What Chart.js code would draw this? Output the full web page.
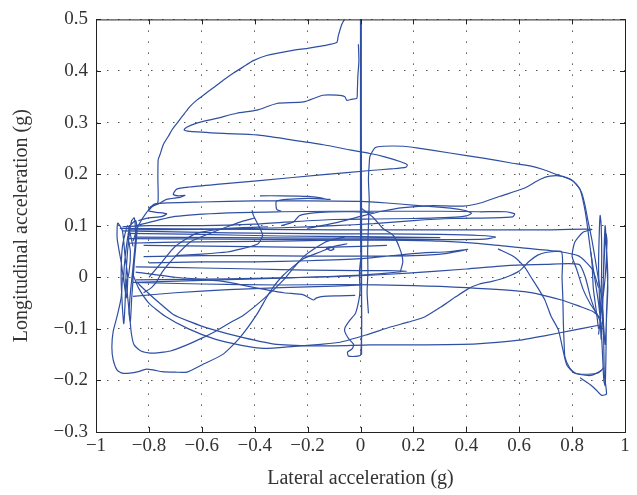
<!DOCTYPE html>
<html>
<head>
<meta charset="utf-8">
<script src="https://cdn.jsdelivr.net/npm/chart.js@4.4.1/dist/chart.umd.min.js"></script>
<style>
  html, body { margin: 0; padding: 0; background: #fff; }
  #wrap { width: 637px; height: 495px; }
</style>
</head>
<body>
<div id="wrap"><canvas id="chart" width="637" height="495"></canvas></div>
<script>
// axis ticks
const xTicks = [-1, -0.8, -0.6, -0.4, -0.2, 0, 0.2, 0.4, 0.6, 0.8, 1];
const yTicks = [-0.3, -0.2, -0.1, 0, 0.1, 0.2, 0.3, 0.4, 0.5];

// trace pieces, [lateral, longitudinal] in g
const upperLoop = [[-0.86,0.07],[-0.84,0.10],[-0.81,0.125],[-0.785,0.138],[-0.766,0.145],[-0.766,0.19],[-0.765,0.228],[-0.758,0.238],[-0.745,0.258],[-0.727,0.273],[-0.71,0.288],[-0.689,0.302],[-0.665,0.318],[-0.645,0.331],[-0.62,0.343],[-0.594,0.353],[-0.555,0.368],[-0.519,0.382],[-0.48,0.396],[-0.443,0.408],[-0.405,0.42],[-0.355,0.43],[-0.267,0.439],[-0.2,0.444],[-0.14,0.449],[-0.09,0.455],[-0.084,0.468],[-0.071,0.49],[-0.059,0.502],[-0.05,0.52],[0.0,0.52]];

const centerPost = [[0.0,0.52],[0.0,0.3],[0.0,0.1],[0.001,-0.15],[-0.045,-0.153],[-0.049,-0.145],[-0.032,-0.139],[-0.026,-0.13],[-0.045,-0.119],[-0.059,-0.106],[-0.058,-0.097],[-0.04,-0.083],[-0.019,-0.07],[-0.006,-0.044],[-0.002,-0.024],[-0.004,0.01],[0.004,0.05]];
const centerPost2 = [[0.004,-0.15],[0.004,0.1],[0.003,0.3],[0.003,0.52]];

const notchLoop = [[-0.008,0.452],[-0.006,0.42],[-0.01,0.39],[-0.012,0.36],[-0.014,0.347],[-0.035,0.345],[-0.052,0.343],[-0.059,0.35],[-0.09,0.353],[-0.142,0.353],[-0.216,0.34],[-0.317,0.337],[-0.392,0.324],[-0.468,0.318],[-0.544,0.308],[-0.619,0.299],[-0.657,0.291],[-0.667,0.286],[-0.645,0.283],[-0.519,0.279],[-0.392,0.276],[-0.267,0.267],[-0.14,0.257],[-0.04,0.247],[0.036,0.24],[0.088,0.234],[0.152,0.224],[0.177,0.218],[0.171,0.213],[0.113,0.21],[0.037,0.207],[-0.14,0.199],[-0.392,0.187],[-0.544,0.18],[-0.645,0.175],[-0.695,0.171],[-0.708,0.161],[-0.689,0.158],[-0.664,0.159],[-0.682,0.155],[-0.733,0.151],[-0.765,0.142],[-0.796,0.136],[-0.802,0.129],[-0.771,0.126],[-0.733,0.123],[-0.75,0.118],[-0.8,0.115],[-0.84,0.11]];

const rightArc = [[0.03,-0.07],[0.025,-0.03],[0.028,0.01],[0.027,0.05],[0.03,0.1],[0.033,0.15],[0.03,0.19],[0.033,0.22],[0.036,0.235],[0.055,0.251],[0.086,0.254],[0.162,0.254],[0.212,0.251],[0.338,0.241],[0.464,0.231],[0.565,0.222],[0.641,0.216],[0.691,0.209],[0.742,0.199],[0.792,0.19],[0.817,0.18],[0.836,0.164],[0.849,0.139],[0.861,0.107],[0.874,0.075],[0.887,0.036],[0.899,-0.002],[0.912,-0.04],[0.918,-0.09],[0.92,-0.14],[0.922,-0.19],[0.93,-0.226],[0.912,-0.229],[0.89,-0.218],[0.868,-0.208],[0.83,-0.195]];

const risingArc = [[-0.2,0.095],[-0.1,0.105],[0.0,0.118],[0.08,0.128],[0.162,0.135],[0.275,0.139],[0.389,0.138],[0.46,0.145],[0.527,0.157],[0.616,0.172],[0.68,0.19],[0.716,0.196],[0.76,0.196],[0.8,0.188],[0.83,0.17],[0.845,0.14],[0.855,0.11],[0.865,0.07],[0.875,0.03],[0.88,-0.02],[0.89,-0.06],[0.9,-0.1]];

const crossLine = [[-0.91,0.095],[-0.7,0.094],[-0.4,0.093],[-0.1,0.092],[0.2,0.092],[0.5,0.092],[0.7,0.092],[0.874,0.093],[0.84,0.087],[0.81,0.068],[0.80,0.041],[0.817,0.016],[0.842,-0.024],[0.868,-0.051],[0.893,-0.07],[0.91,-0.09]];

const sweepA = [[-0.80,0.13],[-0.78,0.142],[-0.6,0.146],[-0.4,0.148],[-0.2,0.148],[0.0,0.147],[0.1,0.144],[0.22,0.139],[0.34,0.134],[0.40,0.129],[0.42,0.124],[0.40,0.119],[0.34,0.116],[0.2,0.114],[0.05,0.113],[-0.1,0.112],[-0.25,0.108],[-0.4,0.103],[-0.6,0.1],[-0.8,0.1],[-0.9,0.098]];
const sweepB = [[-0.85,0.1],[-0.7,0.118],[-0.5,0.125],[-0.3,0.127],[-0.1,0.128],[0.1,0.128],[0.3,0.128],[0.45,0.127],[0.55,0.127],[0.583,0.123],[0.575,0.117],[0.5,0.115],[0.35,0.114],[0.2,0.11],[0.05,0.104],[-0.1,0.1],[-0.3,0.096],[-0.6,0.093],[-0.88,0.092]];
const sweepC = [[-0.9,0.09],[-0.7,0.088],[-0.5,0.086],[-0.3,0.085],[-0.1,0.084],[0.1,0.084],[0.3,0.083],[0.45,0.081],[0.51,0.078],[0.47,0.074],[0.3,0.073],[0.1,0.073],[-0.1,0.072],[-0.3,0.07],[-0.5,0.069],[-0.7,0.068],[-0.88,0.066]];
const sweepD = [[-0.82,0.04],[-0.6,0.042],[-0.4,0.042],[-0.2,0.041],[0.0,0.041],[0.2,0.042],[0.32,0.046],[0.405,0.054],[0.34,0.05],[0.2,0.046],[0.0,0.036],[-0.2,0.032],[-0.4,0.03],[-0.6,0.03],[-0.8,0.028]];
const sweepE = [[-0.85,0.02],[-0.6,0.018],[-0.4,0.016],[-0.2,0.014],[0.0,0.013],[0.1,0.013],[0.175,0.012],[0.1,0.008],[0.0,0.004],[-0.2,0.0],[-0.4,-0.003],[-0.6,-0.006],[-0.85,-0.01]];
const shortBar = [[-0.38,0.158],[-0.3,0.158],[-0.2,0.157],[-0.15,0.154],[-0.128,0.151],[-0.115,0.151],[-0.2,0.153],[-0.317,0.148],[-0.317,0.132],[-0.3,0.128]];
const bandLoop = [[-0.88,0.085],[-0.6,0.083],[-0.3,0.08],[0.0,0.079],[0.15,0.078],[0.3,0.077],[0.1,0.076],[-0.2,0.076],[-0.5,0.077],[-0.85,0.078]];
const bandLow = [[-0.82,0.062],[-0.5,0.06],[-0.2,0.058],[0.0,0.06],[0.1,0.062]];

const lineF = [[-0.85,-0.005],[-0.5,-0.003],[-0.2,0.0],[0.0,0.003],[0.18,0.008],[0.4,0.016],[0.567,0.023],[0.7,0.025],[0.826,0.025],[0.85,0.0],[0.87,-0.04],[0.89,-0.07]];
const lineG = [[-0.86,-0.01],[-0.6,-0.013],[-0.3,-0.015],[-0.077,-0.014],[0.2,-0.016],[0.4,-0.02],[0.62,-0.028],[0.76,-0.044],[0.826,-0.056],[0.877,-0.066],[0.91,-0.08]];
const lineH = [[-0.86,-0.037],[-0.7,-0.03],[-0.5,-0.024],[-0.3,-0.02],[-0.1,-0.017],[0.0,-0.015]];
const lineI = [[-0.85,0.01],[-0.7,0.0],[-0.52,-0.008],[-0.4,-0.02],[-0.29,-0.03],[-0.216,-0.034],[-0.178,-0.044],[-0.166,-0.04],[-0.14,-0.037],[-0.08,-0.036],[-0.02,-0.035]];
const lineJ = [[-0.88,0.075],[-0.5,0.074],[-0.2,0.073],[0.1,0.072],[0.3,0.07],[0.5,0.063],[0.65,0.055],[0.75,0.05],[0.826,0.041],[0.877,0.015],[0.9,-0.02]];

const lowLoopA = [[-0.90,0.0],[-0.905,-0.04],[-0.92,-0.075],[-0.935,-0.105],[-0.94,-0.135],[-0.935,-0.16],[-0.92,-0.18],[-0.9,-0.186],[-0.872,-0.186],[-0.84,-0.183],[-0.81,-0.178],[-0.78,-0.18],[-0.75,-0.183],[-0.7,-0.184],[-0.657,-0.184],[-0.6,-0.17],[-0.519,-0.149],[-0.456,-0.117],[-0.392,-0.072],[-0.342,-0.028],[-0.292,0.004],[-0.216,0.036],[-0.153,0.049],[-0.1,0.06],[-0.05,0.065]];
const lowLoopB = [[-0.887,-0.003],[-0.88,-0.04],[-0.872,-0.079],[-0.866,-0.11],[-0.856,-0.131],[-0.83,-0.143],[-0.795,-0.147],[-0.76,-0.146],[-0.718,-0.143],[-0.656,-0.131],[-0.6,-0.118],[-0.549,-0.105],[-0.5,-0.09],[-0.441,-0.073],[-0.364,-0.041],[-0.287,-0.003],[-0.25,0.02],[-0.211,0.042],[-0.134,0.068],[-0.103,0.073],[-0.06,0.078]];
const flatArc = [[-0.845,-0.01],[-0.808,-0.028],[-0.76,-0.05],[-0.708,-0.072],[-0.64,-0.087],[-0.581,-0.098],[-0.443,-0.117],[-0.317,-0.13],[-0.14,-0.133],[0.036,-0.131],[0.2,-0.131],[0.44,-0.129],[0.6,-0.122],[0.70,-0.113],[0.8,-0.103],[0.90,-0.093]];
const sweepArc = [[-0.86,0.005],[-0.84,-0.02],[-0.80,-0.05],[-0.74,-0.075],[-0.65,-0.1],[-0.55,-0.12],[-0.45,-0.132],[-0.365,-0.138],[-0.25,-0.134],[-0.15,-0.13],[-0.077,-0.126],[0.02,-0.112],[0.116,-0.096],[0.18,-0.087],[0.242,-0.077],[0.306,-0.057],[0.36,-0.038],[0.408,-0.022],[0.45,-0.013],[0.497,-0.008],[0.55,0.0],[0.6,0.012],[0.638,0.031],[0.67,0.043],[0.70,0.048],[0.735,0.05],[0.76,0.05],[0.764,0.03],[0.762,0.0],[0.765,-0.04],[0.767,-0.09],[0.77,-0.13],[0.773,-0.155],[0.79,-0.175],[0.81,-0.185],[0.85,-0.19],[0.875,-0.19],[0.913,-0.18]];
const lowerRight = [[0.52,0.055],[0.58,0.04],[0.62,0.02],[0.645,0.0],[0.67,-0.02],[0.697,-0.044],[0.72,-0.075],[0.748,-0.102],[0.765,-0.14],[0.78,-0.17],[0.81,-0.186],[0.86,-0.188],[0.9,-0.185],[0.92,-0.175]];

const midCurveK = [[-0.40,0.115],[-0.45,0.108],[-0.493,0.1],[-0.57,0.085],[-0.645,0.068],[-0.708,0.036],[-0.75,0.01],[-0.77,-0.008],[-0.79,-0.02],[-0.82,-0.03]];
const midRise = [[-0.8,0.0],[-0.75,0.03],[-0.7,0.06],[-0.62,0.085],[-0.5,0.095],[-0.35,0.098]];
const midWave = [[-0.41,0.13],[-0.405,0.12],[-0.385,0.1],[-0.37,0.082],[-0.38,0.07],[-0.39,0.064],[-0.45,0.055],[-0.505,0.049],[-0.6,0.045],[-0.7,0.042]];
const postDrop = [[0.0,0.135],[0.048,0.116],[0.086,0.094],[0.124,0.081],[0.149,0.055],[0.16,0.03],[0.15,0.01]];
const midHump = [[-0.3,0.1],[-0.254,0.107],[-0.229,0.12],[-0.153,0.126],[-0.027,0.127],[0.05,0.125]];
const smallCurl = [[-0.13,0.057],[-0.115,0.052],[-0.1,0.055],[-0.115,0.059],[-0.13,0.057]];

const leftCluster = [[-0.86,0.06],[-0.88,0.1],[-0.9,0.06],[-0.905,0.0],[-0.9,-0.06],[-0.895,-0.09],[-0.89,-0.05],[-0.885,0.02],[-0.875,0.08],[-0.865,0.11],[-0.855,0.115],[-0.85,0.08],[-0.86,0.02],[-0.87,-0.03],[-0.875,-0.07],[-0.87,-0.085],[-0.865,-0.04],[-0.855,0.03],[-0.845,0.09],[-0.85,0.11],[-0.87,0.1],[-0.885,0.06],[-0.895,0.0],[-0.885,-0.04],[-0.88,0.0],[-0.89,0.04],[-0.9,0.09],[-0.918,0.105],[-0.92,0.075],[-0.905,0.03],[-0.89,-0.02],[-0.875,0.01],[-0.87,0.05],[-0.88,0.08]];
const rightCluster = [[0.87,0.05],[0.885,0.0],[0.9,-0.05],[0.91,-0.1],[0.915,-0.15],[0.92,-0.2],[0.925,-0.21],[0.928,-0.15],[0.93,-0.07],[0.935,0.0],[0.93,0.06],[0.925,0.1],[0.922,0.07],[0.918,0.0],[0.915,-0.08],[0.91,-0.12],[0.905,-0.06],[0.9,0.02],[0.903,0.09],[0.906,0.12],[0.91,0.1],[0.912,0.04],[0.91,-0.03],[0.905,-0.09],[0.9,-0.11],[0.91,-0.07],[0.925,0.0],[0.932,0.07],[0.928,0.085],[0.92,0.02],[0.915,-0.05],[0.92,-0.1],[0.925,-0.13],[0.93,-0.08],[0.935,-0.02],[0.93,0.04]];

const pieces = [upperLoop, centerPost, centerPost2, notchLoop, rightArc, risingArc, crossLine,
  sweepA, sweepB, sweepC, sweepD, sweepE, shortBar, bandLoop, bandLow, lineF, lineG, lineH, lineI, lineJ,
  lowLoopA, lowLoopB, flatArc, sweepArc, lowerRight, midCurveK, midRise, midWave, postDrop, midHump,
  smallCurl, leftCluster, rightCluster];

const traceColor = '#2f4fa2';
const serif = 'Liberation Serif';

function fmt(v) {
  if (Math.abs(v) < 1e-9) return '0';
  const s = String(Number(Math.abs(v).toFixed(1)));
  return (v < 0 ? '\u2212' : '') + s;
}

// MATLAB style box with inward tick marks
const boxPlugin = {
  id: 'box',
  afterDraw(chart) {
    const { ctx, chartArea: a, scales: { x, y } } = chart;
    ctx.save();
    ctx.strokeStyle = '#222';
    ctx.lineWidth = 1;
    ctx.strokeRect(a.left + 0.5, a.top + 0.5, a.right - a.left, a.bottom - a.top);
    ctx.beginPath();
    xTicks.forEach(t => {
      const px = Math.round(x.getPixelForValue(t)) + 0.5;
      ctx.moveTo(px, a.bottom); ctx.lineTo(px, a.bottom - 5);
      ctx.moveTo(px, a.top); ctx.lineTo(px, a.top + 5);
    });
    yTicks.forEach(t => {
      const py = Math.round(y.getPixelForValue(t)) + 0.5;
      ctx.moveTo(a.left, py); ctx.lineTo(a.left + 5, py);
      ctx.moveTo(a.right, py); ctx.lineTo(a.right - 5, py);
    });
    ctx.stroke();
    ctx.restore();
  }
};

new Chart(document.getElementById('chart'), {
  type: 'scatter',
  data: {
    datasets: pieces.map(p => ({
      data: p.map(([x, y]) => ({ x, y })),
      showLine: true,
      pointRadius: 0,
      borderColor: traceColor,
      borderWidth: 1.2,
      tension: 0.2,
      clip: 0
    }))
  },
  options: {
    responsive: false,
    animation: false,
    layout: { padding: { top: 15, right: 12, left: 0, bottom: 0 } },
    plugins: { legend: { display: false }, tooltip: { enabled: false } },
    scales: {
      x: {
        type: 'linear', min: -1, max: 1,
        afterBuildTicks: s => { s.ticks = xTicks.map(v => ({ value: v })); },
        ticks: { callback: fmt, padding: 3, color: '#333', maxRotation: 0, autoSkip: false,
                 font: { family: serif, size: 19 } },
        grid: { color: '#555', lineWidth: 1, drawTicks: false },
        border: { display: false, dash: [1.5, 9.5] },
        title: { display: true, text: 'Lateral acceleration (g)', color: '#333',
                 font: { family: serif, size: 20 }, padding: { top: 4, bottom: 4 } },
        afterFit: s => { s.height = 63; }
      },
      y: {
        type: 'linear', min: -0.3, max: 0.5,
        afterBuildTicks: s => { s.ticks = yTicks.map(v => ({ value: v })); },
        ticks: { callback: fmt, padding: 8, color: '#333', autoSkip: false,
                 font: { family: serif, size: 19 } },
        grid: { color: '#555', lineWidth: 1, drawTicks: false },
        border: { display: false, dash: [1.5, 9.5] },
        title: { display: true, text: 'Longitudinal acceleration (g)', color: '#333',
                 font: { family: serif, size: 20 }, padding: { top: 10, bottom: 4 } },
        afterFit: s => { s.width = 96; }
      }
    }
  },
  plugins: [boxPlugin]
});
</script>
</body>
</html>
